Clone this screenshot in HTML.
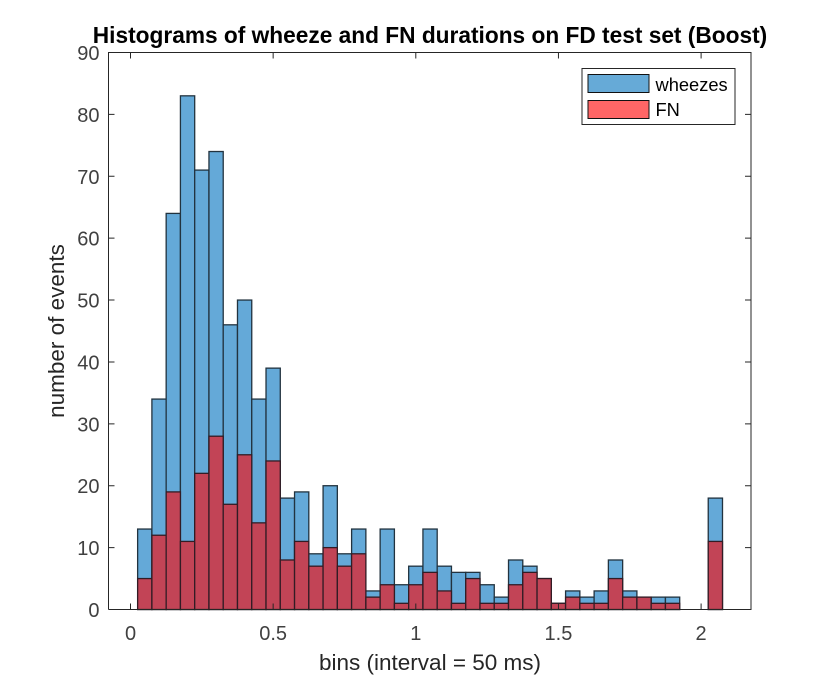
<!DOCTYPE html>
<html>
<head>
<meta charset="utf-8">
<style>
html,body{margin:0;padding:0;background:#fff;}
svg{display:block;font-family:"Liberation Sans",sans-serif;}
</style>
</head>
<body>
<svg id="chart" xmlns="http://www.w3.org/2000/svg" width="830" height="686" viewBox="0 0 830 686">
  <rect x="0" y="0" width="830" height="686" fill="#ffffff"/>
  <g id="wheeze-bars"></g>
  <g id="fn-bars"></g>
  <g id="axes"></g>
  <text x="430" y="43" text-anchor="middle" font-size="22.7" font-weight="bold" fill="#000">Histograms of wheeze and FN durations on FD test set (Boost)</text>
  <text x="430" y="670" text-anchor="middle" font-size="22.5" fill="#262626">bins (interval = 50 ms)</text>
  <text transform="translate(64,331) rotate(-90)" text-anchor="middle" font-size="22.5" fill="#262626">number of events</text>
  <g>
    <rect x="582" y="68.5" width="153" height="56" fill="#fff" stroke="#262626" stroke-width="1"/>
    <rect x="588" y="74.5" width="61" height="18" fill="#66aad7" stroke="#111" stroke-width="1"/>
    <text x="655.5" y="91" font-size="18.3" fill="#000">wheezes</text>
    <rect x="588" y="100.5" width="61" height="18" fill="#ff6666" stroke="#111" stroke-width="1"/>
    <text x="655.5" y="116" font-size="18.3" fill="#000">FN</text>
  </g>
</svg>
<script>
const binStart = 0.025;
const binWidth = 0.05;
const wheezeCounts = [13,34,64,83,71,74,46,50,34,39,18,19,9,20,9,13,3,13,4,7,13,7,6,6,4,2,8,7,5,1,3,2,3,8,3,2,2,2,0,0,18];
const fnCounts = [5,12,19,11,22,28,17,25,14,24,8,11,7,10,7,9,2,4,1,4,6,3,1,5,1,1,4,6,5,1,2,1,1,5,2,2,1,1,0,0,11];
const xTicks = [0,0.5,1,1.5,2];
const xTickLabels = ['0','0.5','1','1.5','2'];
const yTicks = [0,10,20,30,40,50,60,70,80,90];
const yTickLabels = ['0','10','20','30','40','50','60','70','80','90'];

const NS = 'http://www.w3.org/2000/svg';
const plotLeft = 108.5, plotRight = 751, plotTop = 52.5, plotBottom = 609.5;
function xScale(v){ return 130.5 + v * 285.3; }
function yScale(v){ return plotBottom - v * (plotBottom - plotTop) / 90; }

function make(tag, attrs, parent){
  const el = document.createElementNS(NS, tag);
  for (const k in attrs) el.setAttribute(k, attrs[k]);
  parent.appendChild(el);
  return el;
}

function drawBars(values, groupId, fill, stroke){
  const g = document.getElementById(groupId);
  values.forEach(function(v, i){
    if (v <= 0) return;
    const x0 = xScale(binStart + i * binWidth);
    const x1 = xScale(binStart + (i + 1) * binWidth);
    const r = make('rect', {x: x0, y: yScale(v), width: x1 - x0, height: plotBottom - yScale(v), fill: fill, stroke: stroke, 'stroke-width': 1.3}, g);
    
    
  });
}
drawBars(wheezeCounts, 'wheeze-bars', '#64a9d8', '#22333f');
drawBars(fnCounts, 'fn-bars', '#c24456', '#321c25');

const axes = document.getElementById('axes');
const axisColor = '#262626';
const box = make('path', {d: 'M' + plotLeft + ' ' + plotBottom + 'V' + plotTop + 'H' + plotRight + 'V' + plotBottom + 'H' + plotLeft, fill: 'none', stroke: axisColor, 'stroke-width': 1}, axes);



xTicks.forEach(function(v, i){
  const x = xScale(v);
  const t = make('path', {d: 'M' + x + ' ' + plotBottom + 'v-6M' + x + ' ' + plotTop + 'v6', stroke: axisColor, 'stroke-width': 1, fill: 'none'}, axes);
  
  
  const l = make('text', {x: x, y: 640, 'text-anchor': 'middle', 'font-size': 20, fill: '#404040'}, axes);
  l.textContent = xTickLabels[i];
  
  
});

yTicks.forEach(function(v, i){
  const y = yScale(v);
  const t = make('path', {d: 'M' + plotLeft + ' ' + y + 'h6M' + plotRight + ' ' + y + 'h-6', stroke: axisColor, 'stroke-width': 1, fill: 'none'}, axes);
  
  
  const l = make('text', {x: 99.5, y: y + 7.5, 'text-anchor': 'end', 'font-size': 20, fill: '#404040'}, axes);
  l.textContent = yTickLabels[i];
  
  
});
</script>
</body>
</html>
